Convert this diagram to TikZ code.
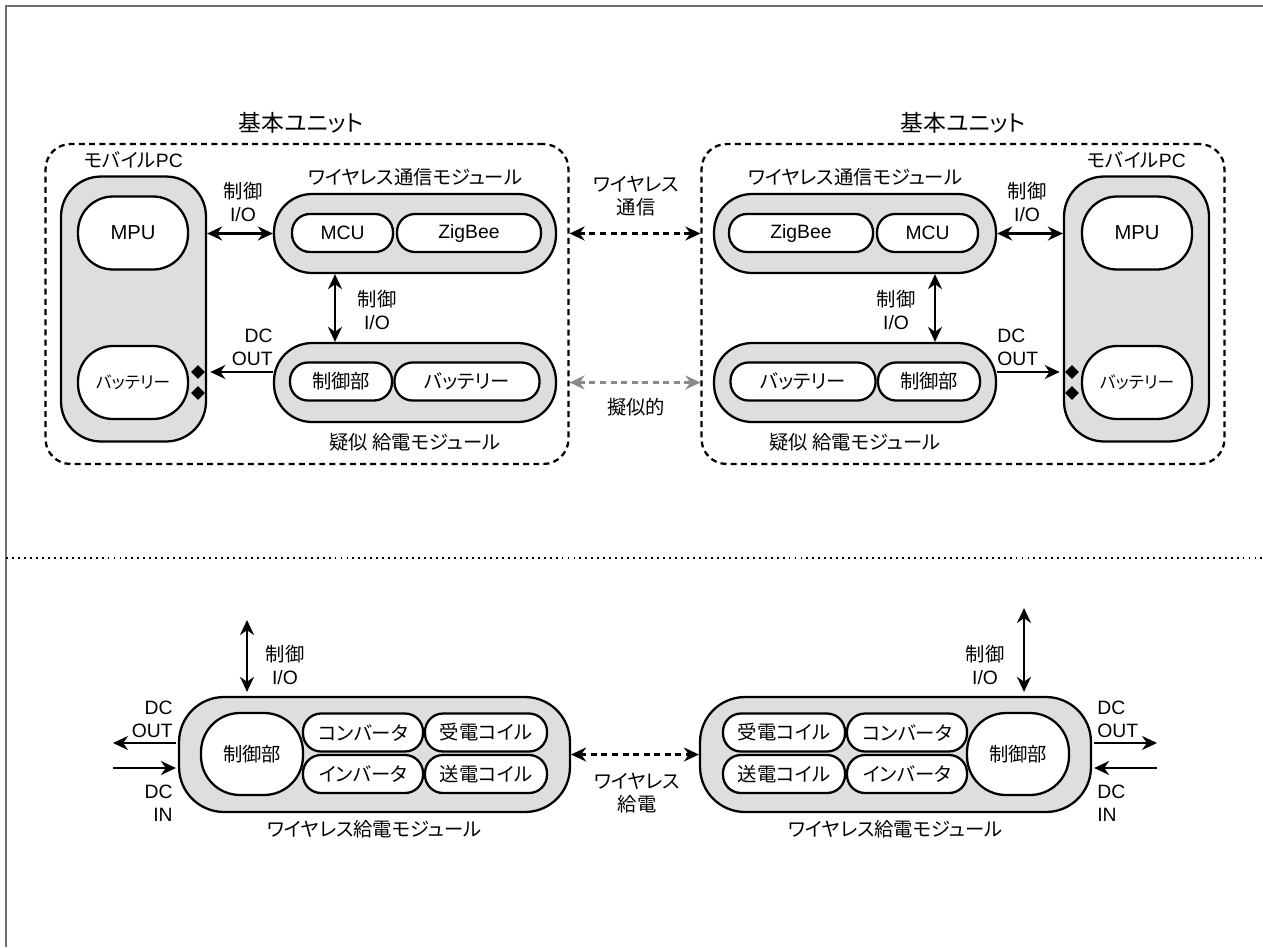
\documentclass[tikz,border=0pt]{standalone}
\usepackage{fontspec}
\setmainfont{Liberation Sans}
\newfontfamily\jpfont[RawFeature=+palt]{Noto Sans CJK JP}
\newcommand{\ja}[1]{{\jpfont #1}}
\usetikzlibrary{positioning,arrows.meta,shapes.geometric}
\definecolor{modgray}{HTML}{DEDEDE}
\definecolor{framegray}{HTML}{707070}
\definecolor{pseudogray}{HTML}{8A8A8A}

\begin{document}
\begin{tikzpicture}[x=0.02cm,y=-0.02cm,
  >={Stealth[length=3mm,width=2.8mm]},
  unit/.style={draw,line width=1.3pt,dash pattern=on 3.4pt off 2.4pt,rounded corners=0.5cm,
    inner sep=0pt,minimum width=10.46cm,minimum height=6.4cm},
  pc/.style={draw,fill=modgray,line width=1.3pt,rounded corners=0.8cm,inner sep=0pt,
    minimum width=2.9cm,minimum height=5.3cm},
  md/.style={draw,fill=modgray,line width=1.3pt,rounded corners=0.76cm,inner sep=0pt,
    minimum width=5.64cm,minimum height=1.58cm},
  wp/.style={draw,fill=modgray,line width=1.3pt,rounded corners=0.9cm,inner sep=0pt,
    minimum width=7.82cm,minimum height=2.3cm},
  pt/.style={draw,fill=white,line width=1.3pt,rounded corners=0.36cm,inner sep=0pt,
    minimum height=0.76cm,font=\fontsize{11}{12}\selectfont},
  cl/.style={draw,fill=white,line width=1.3pt,rounded corners=0.7cm,inner sep=0pt,
    minimum width=2.2cm,minimum height=1.46cm,font=\fontsize{11.5}{13}\selectfont},
  dm/.style={diamond,fill=black,inner sep=0pt,minimum size=0.28cm},
  lb/.style={font=\fontsize{11}{13}\selectfont,align=center,inner sep=0pt},
  ttl/.style={font=\fontsize{13}{15}\selectfont,inner sep=0pt},
  io/.style={<->,line width=1.3pt},
  dc/.style={->,line width=1.3pt},
  wl/.style={<->,line width=1.3pt,dash pattern=on 3.4pt off 2.6pt}]

\useasboundingbox (0,0) rectangle (1263,947);
\draw[framegray,line width=1.1pt] (1263,6) -- (6,6) -- (6,947);

% --- upper left: basic unit ---
\node[unit] (uL) at (307,304) {};
\node[ttl] at (301,123) {\ja{基本ユニット}};
\node[pc] (pcL) at (133.5,309) {};
\node[lb] at (133.5,160) {\ja{モバイル}PC};
\node[cl] (mpuL) at (133,233) {MPU};
\node[cl,font=\fontsize{9.5}{11}\selectfont] (batL) at (133,382.5) {\ja{バッテリー}};
\node[dm] (dL1) at (198,372) {};
\node[dm] (dL2) at (198,393) {};

\node[md] (wcL) at (415,233.5) {};
\node[pt,minimum width=2.02cm] (mcuL) at (342.5,233) {MCU};
\node[pt,minimum width=2.88cm] (zbL) at (469,233) {ZigBee};
\node[lb] at (415,177) {\ja{ワイヤレス通信モジュール}};

\node[md] (pmL) at (415,382.5) {};
\node[pt,minimum width=2.04cm] (cpL) at (341,381.5) {\ja{制御部}};
\node[pt,minimum width=2.9cm] (bpL) at (467,381.5) {\ja{バッテリー}};
\node[lb] at (415,442) {\ja{疑似 給電モジュール}};

\draw[io] (wcL.west -| pcL.east) -- (wcL.west);
\node[lb] at (243,202) {\ja{制御}\\I/O};
\coordinate (ioL) at (335,0);
\draw[io] (wcL.south -| ioL) -- (pmL.north -| ioL);
\node[lb] at (377,310) {\ja{制御}\\I/O};
\draw[dc,shorten >=0.1cm] (dL1 -| pmL.west) -- (dL1.east);
\node[lb,anchor=east,align=right] at (273,347) {DC\\OUT};

% --- upper right: basic unit ---
\node[unit] (uR) at (963,304) {};
\node[ttl] at (963,123) {\ja{基本ユニット}};
\node[pc] (pcR) at (1136.5,309) {};
\node[lb] at (1136.5,160) {\ja{モバイル}PC};
\node[cl] (mpuR) at (1137,233) {MPU};
\node[cl,font=\fontsize{9.5}{11}\selectfont] (batR) at (1137,382.5) {\ja{バッテリー}};
\node[dm] (dR1) at (1072,372) {};
\node[dm] (dR2) at (1072,393) {};

\node[md] (wcR) at (855,233.5) {};
\node[pt,minimum width=2.88cm] (zbR) at (801,233) {ZigBee};
\node[pt,minimum width=2.02cm] (mcuR) at (927.5,233) {MCU};
\node[lb] at (855,177) {\ja{ワイヤレス通信モジュール}};

\node[md] (pmR) at (855,382.5) {};
\node[pt,minimum width=2.9cm] (bpR) at (803,381.5) {\ja{バッテリー}};
\node[pt,minimum width=2.04cm] (cpR) at (929,381.5) {\ja{制御部}};
\node[lb] at (855,442) {\ja{疑似 給電モジュール}};

\draw[io] (wcR.east) -- (wcR.east -| pcR.west);
\node[lb] at (1027,202) {\ja{制御}\\I/O};
\coordinate (ioR) at (935,0);
\draw[io] (wcR.south -| ioR) -- (pmR.north -| ioR);
\node[lb] at (896,310) {\ja{制御}\\I/O};
\draw[dc,shorten >=0.1cm] (dR1 -| pmR.east) -- (dR1.west);
\node[lb,anchor=west,align=left] at (997,347) {DC\\OUT};

% --- between the units ---
\draw[wl] (wcL -| uL.east) -- (wcR -| uR.west);
\node[lb] at (636,196) {\ja{ワイヤレス}\\\ja{通信}};
\draw[wl,pseudogray] (pmL -| uL.east) -- (pmR -| uR.west);
\node[lb] at (636,407) {\ja{擬似的}};

\draw[line width=1.1pt,dash pattern=on 1.1pt off 2.3pt] (6,558) -- (1263,558);

% --- lower left: wireless power module ---
\node[wp] (wpL) at (374.5,754.5) {};
\node[cl,minimum width=2.04cm,minimum height=1.64cm,rounded corners=0.78cm,
  font=\fontsize{11}{12}\selectfont] (ctL) at (252,754) {\ja{制御部}};
\node[pt,minimum width=2.4cm] (cvL) at (363,732.5) {\ja{コンバータ}};
\node[pt,minimum width=2.44cm] (rxL) at (486,732.5) {\ja{受電コイル}};
\node[pt,minimum width=2.4cm] (ivL) at (363,774) {\ja{インバータ}};
\node[pt,minimum width=2.44cm] (txL) at (486,774) {\ja{送電コイル}};
\node[lb] at (374.5,829) {\ja{ワイヤレス給電モジュール}};

\coordinate (cioL) at (247,620);
\draw[io,shorten >=0.08cm] (cioL) -- (cioL |- wpL.north);
\node[lb] at (285,665) {\ja{制御}\\I/O};
\coordinate (doL) at (113,743);
\coordinate (diL) at (113,768);
\draw[dc,shorten <=0.04cm] (doL -| wpL.west) -- (doL);
\draw[dc,shorten >=0.04cm] (diL) -- (diL -| wpL.west);
\node[lb,anchor=east,align=right] at (173,719) {DC\\OUT};
\node[lb,anchor=east,align=right] at (173,803) {DC\\IN};

% --- lower right: wireless power module ---
\node[wp] (wpR) at (895.5,754.5) {};
\node[cl,minimum width=2.04cm,minimum height=1.64cm,rounded corners=0.78cm,
  font=\fontsize{11}{12}\selectfont] (ctR) at (1018,754) {\ja{制御部}};
\node[pt,minimum width=2.44cm] (rxR) at (784,732.5) {\ja{受電コイル}};
\node[pt,minimum width=2.4cm] (cvR) at (907,732.5) {\ja{コンバータ}};
\node[pt,minimum width=2.44cm] (txR) at (784,774) {\ja{送電コイル}};
\node[pt,minimum width=2.4cm] (ivR) at (907,774) {\ja{インバータ}};
\node[lb] at (895.5,829) {\ja{ワイヤレス給電モジュール}};

\coordinate (cioR) at (1024,608);
\draw[io,shorten >=0.08cm] (cioR) -- (cioR |- wpR.north);
\node[lb] at (985,665) {\ja{制御}\\I/O};
\coordinate (doR) at (1157,743);
\coordinate (diR) at (1157,768);
\draw[dc,shorten <=0.04cm] (doR -| wpR.east) -- (doR);
\draw[dc,shorten >=0.04cm] (diR) -- (diR -| wpR.east);
\node[lb,anchor=west,align=left] at (1097,719) {DC\\OUT};
\node[lb,anchor=west,align=left] at (1097,803) {DC\\IN};

% --- between the power modules ---
\draw[wl] (wpL.east) -- (wpR.west);
\node[lb] at (637,793) {\ja{ワイヤレス}\\\ja{給電}};
\end{tikzpicture}
\end{document}
